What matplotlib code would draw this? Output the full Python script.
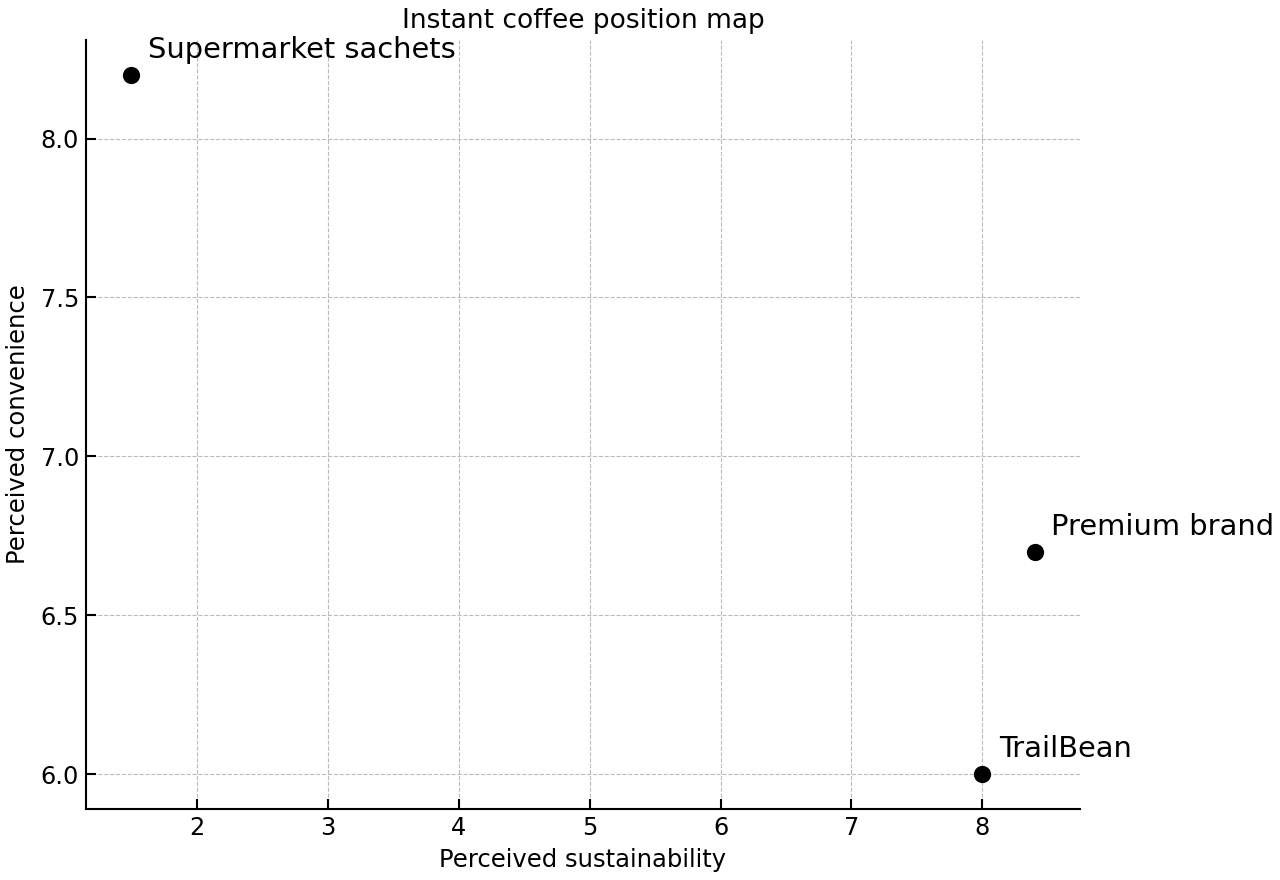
import matplotlib
matplotlib.use('Agg')
import matplotlib.pyplot as plt

brands = ['Supermarket sachets', 'Premium brand', 'TrailBean']
sustainability = [1.5, 8.4, 8.0]
convenience = [8.2, 6.7, 6.0]

fig, ax = plt.subplots(figsize=(12.8, 8.8), dpi=100)
fig.subplots_adjust(left=86/1280, right=1080/1280, top=1-40/880, bottom=1-809/880)

ax.scatter(sustainability, convenience, s=130, color='black', zorder=3)
for name, x, y in zip(brands, sustainability, convenience):
    ax.annotate(name, (x, y), xytext=(12, 12), textcoords='offset points', fontsize=20.8)

ax.set_title('Instant coffee position map', fontsize=19, pad=9)
ax.set_xlabel('Perceived sustainability', fontsize=17.5, labelpad=6)
ax.set_ylabel('Perceived convenience', fontsize=17.5, labelpad=7.5)
ax.tick_params(direction='in', labelsize=17.3, length=7, width=1.5, pad=5)
ax.grid(True, linestyle='--', color='#bbbbbb', linewidth=0.8)
ax.set_axisbelow(True)
for s in ['top', 'right']:
    ax.spines[s].set_visible(False)
for s in ['left', 'bottom']:
    ax.spines[s].set_linewidth(1.5)
ax.yaxis.set_major_formatter(matplotlib.ticker.FormatStrFormatter('%.1f'))

fig.savefig('out.png', dpi=100)
